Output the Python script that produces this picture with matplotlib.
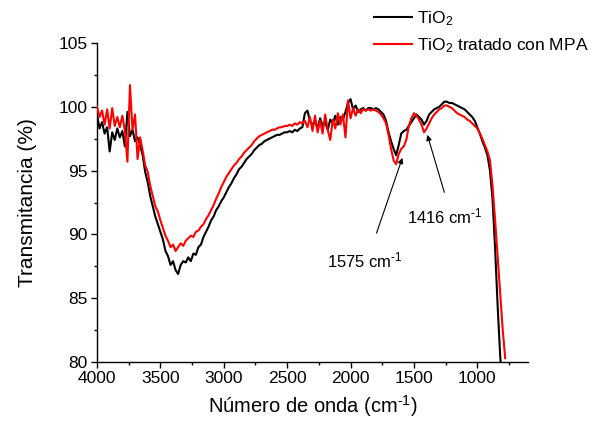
import matplotlib

matplotlib.use("Agg")
import matplotlib.pyplot as plt
from matplotlib.ticker import MultipleLocator

plt.rcParams["font.family"] = ["Liberation Sans", "DejaVu Sans"]
plt.rcParams["mathtext.fontset"] = "custom"
plt.rcParams["mathtext.rm"] = "Liberation Sans"
plt.rcParams["mathtext.it"] = "Liberation Sans:italic"
plt.rcParams["mathtext.bf"] = "Liberation Sans:bold"

# wavenumber grid [cm-1], every 20 cm-1
wavenumber = [
    4000, 3980, 3960, 3940, 3920, 3900, 3880, 3860, 3840, 3820,
    3800, 3780, 3760, 3740, 3720, 3700, 3680, 3660, 3640, 3620,
    3600, 3580, 3560, 3540, 3520, 3500, 3480, 3460, 3440, 3420,
    3400, 3380, 3360, 3340, 3320, 3300, 3280, 3260, 3240, 3220,
    3200, 3180, 3160, 3140, 3120, 3100, 3080, 3060, 3040, 3020,
    3000, 2980, 2960, 2940, 2920, 2900, 2880, 2860, 2840, 2820,
    2800, 2780, 2760, 2740, 2720, 2700, 2680, 2660, 2640, 2620,
    2600, 2580, 2560, 2540, 2520, 2500, 2480, 2460, 2440, 2420,
    2400, 2380, 2360, 2340, 2320, 2300, 2280, 2260, 2240, 2220,
    2200, 2180, 2160, 2140, 2120, 2100, 2080, 2060, 2040, 2020,
    2000, 1980, 1960, 1940, 1920, 1900, 1880, 1860, 1840, 1820,
    1800, 1780, 1760, 1740, 1720, 1700, 1680, 1660, 1640, 1620,
    1600, 1580, 1560, 1540, 1520, 1500, 1480, 1460, 1440, 1420,
    1400, 1380, 1360, 1340, 1320, 1300, 1280, 1260, 1240, 1220,
    1200, 1180, 1160, 1140, 1120, 1100, 1080, 1060, 1040, 1020,
    1000, 980, 960, 940, 920, 900, 880, 860, 840, 820,
    800, 780,
]

# TiO2 (black)
t_tio2 = [
    99.4, 98.3, 98.8, 97.9, 98.4, 96.5, 98.0, 97.4, 98.3, 97.6,
    98.1, 96.9, 99.6, 97.7, 98.2, 97.3, 97.6, 97.0, 96.2, 94.9,
    94.1, 93.0, 92.2, 91.4, 90.8, 90.2, 89.6, 88.7, 88.3, 87.6,
    87.9, 87.2, 86.9, 87.6, 87.9, 87.8, 88.2, 87.9, 88.5, 88.4,
    89.0, 89.2, 89.8, 90.2, 90.6, 91.1, 91.4, 91.9, 92.2, 92.6,
    92.9, 93.3, 93.7, 94.0, 94.4, 94.7, 95.1, 95.3, 95.6, 95.9,
    96.1, 96.3, 96.6, 96.8, 97.0, 97.1, 97.3, 97.4, 97.5, 97.6,
    97.7, 97.8, 97.8, 97.9, 98.0, 98.0, 98.1, 98.0, 98.2, 98.1,
    98.3, 98.4, 99.5, 99.7, 98.9, 98.6, 98.9, 98.3, 99.1, 98.5,
    98.8, 98.2, 99.0, 98.7, 99.3, 98.6, 99.2, 99.0, 99.6, 100.3,
    100.6, 99.8, 100.1, 99.6, 99.8, 99.9, 99.7, 99.9, 99.9, 99.8,
    99.9, 99.8, 99.6, 99.4, 98.9, 98.0, 97.3, 96.7, 96.2, 97.0,
    97.9, 98.1, 98.2, 98.5, 98.8, 99.1, 99.4, 99.2, 99.0, 98.6,
    98.9, 99.4, 99.6, 99.8, 99.9, 100.0, 100.2, 100.4, 100.4, 100.3,
    100.3, 100.2, 100.1, 100.0, 99.9, 99.8, 99.6, 99.4, 99.2, 98.9,
    98.4, 97.9, 97.3, 96.8, 96.2, 95.0, 92.8, 89.0, 84.5, 80.6,
    77.5, 75.0,
]

# TiO2 tratado con MPA (red)
t_mpa = [
    100.0, 99.2, 99.7, 98.6, 99.8, 98.3, 99.9, 98.5, 99.2, 98.4,
    99.3, 98.1, 95.7, 101.7, 98.2, 99.4, 95.9, 97.6, 96.6, 95.4,
    94.9, 93.8, 93.0, 92.2, 91.8, 91.1, 90.5, 89.9, 89.5, 89.0,
    89.2, 88.7, 89.0, 89.3, 89.1, 89.5, 89.7, 89.9, 89.8, 90.2,
    90.3, 90.6, 90.8, 91.2, 91.5, 91.9, 92.3, 92.8, 93.2, 93.7,
    94.1, 94.5, 94.8, 95.1, 95.4, 95.6, 95.9, 96.1, 96.4, 96.6,
    96.8, 97.0, 97.3, 97.5, 97.7, 97.8, 97.9, 98.0, 98.1, 98.2,
    98.2, 98.3, 98.4, 98.4, 98.5, 98.5, 98.6, 98.5, 98.7, 98.6,
    98.8, 98.7, 98.9, 98.4, 99.2, 98.1, 99.3, 98.0, 98.9, 97.9,
    99.4, 98.2, 97.4, 99.0, 98.3, 99.5, 98.6, 99.4, 97.6, 100.5,
    99.1, 99.9, 99.3, 99.8, 99.5, 99.8, 99.7, 99.8, 99.7, 99.8,
    99.7, 99.6, 99.4, 99.1, 98.7, 97.8, 96.7, 95.8, 95.5, 96.3,
    96.7, 96.9, 97.4, 98.5, 99.1, 99.5, 99.3, 99.0, 98.6, 98.0,
    98.3, 98.7, 99.1, 99.4, 99.6, 99.8, 99.9, 100.1, 100.1, 100.0,
    99.9, 99.7, 99.5, 99.4, 99.3, 99.2, 99.0, 98.9, 98.7, 98.5,
    98.3, 97.9, 97.5, 97.0, 96.5, 95.8, 93.8, 91.2, 88.3, 85.4,
    82.6, 80.3,
]

# band labels: (text, arrow head, arrow tail, text anchor)
BANDS = [
    ("1575 cm$^{\\text{-1}}$", (1591, 96.0), (1795, 90.1), (2185, 87.45)),
    ("1416 cm$^{\\text{-1}}$", (1394, 97.8), (1260, 93.3), (1555, 90.9)),
]


def main():
    fig = plt.figure(figsize=(5.95, 4.26), dpi=100, facecolor="white")
    ax = fig.add_axes([97 / 595, 1 - 362 / 426, 431 / 595, 319 / 426])

    ax.plot(wavenumber, t_tio2, color="black", lw=1.5, label="TiO$_2$", zorder=2)
    ax.plot(wavenumber, t_mpa, color="red", lw=1.5,
            label="TiO$_2$ tratado con MPA", zorder=3)

    ax.set_xlim(4000, 600)
    ax.set_ylim(80, 105)
    ax.xaxis.set_minor_locator(MultipleLocator(250))
    ax.yaxis.set_major_locator(MultipleLocator(5))
    ax.yaxis.set_minor_locator(MultipleLocator(2.5))
    ax.set_xticks(range(4000, 999, -500))
    for s in ("top", "right"):
        ax.spines[s].set_visible(False)
    for s in ("left", "bottom"):
        ax.spines[s].set_linewidth(1.0)
    ax.tick_params(which="major", direction="out", length=4.5, width=1.0,
                   labelsize=12.5, pad=2)
    ax.tick_params(which="minor", direction="out", length=2.5, width=1.0)

    ax.set_xlabel("Número de onda (cm$^{\\text{-1}}$)", fontsize=14.5, labelpad=5)
    ax.set_ylabel("Transmitancia (%)", fontsize=15, labelpad=16)

    for text, head, tail, pos in BANDS:
        ax.annotate("", xy=head, xytext=tail,
                    arrowprops=dict(arrowstyle="-|>", color="black", lw=0.8,
                                    mutation_scale=8, shrinkA=0, shrinkB=0))
        ax.text(pos[0], pos[1], text, fontsize=12, ha="left", va="baseline")

    fig.legend(loc="upper left", bbox_to_anchor=(374 / 595, 1 - 9 / 426),
               frameon=False, fontsize=12.5, handlelength=2.2,
               handletextpad=0.3, labelspacing=0.5, borderpad=0,
               borderaxespad=0)

    fig.savefig("out.png", dpi=100, facecolor="white")
    plt.close(fig)


if __name__ == "__main__":
    main()
